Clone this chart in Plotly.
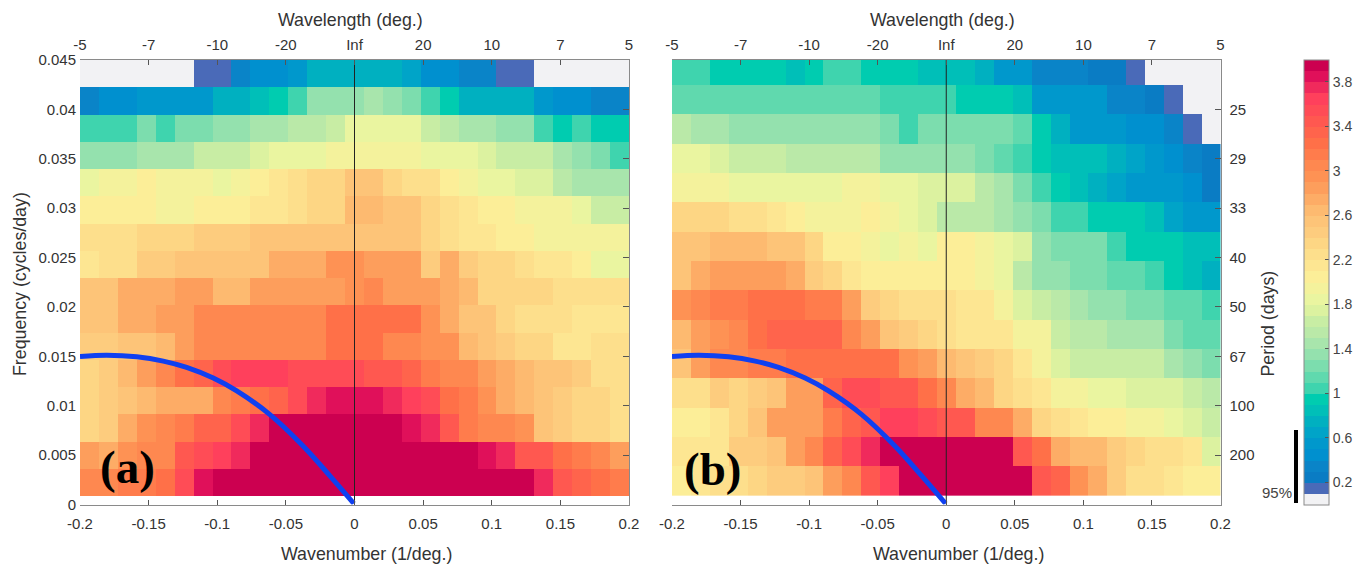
import numpy as np
import plotly.graph_objects as go

W, H = 1369, 567

# Power in each cell, listed from the top row down (lower edge of a 0.1-wide colour band)
panel_a = [
 [0,0,0,0,0,0,.1,.1,.3,.4,.4,.5,.7,.7,.7,.7,.7,.6,.4,.4,.3,.3,.1,.1,0,0,0,0,0],
 [.3,.4,.4,.5,.5,.5,.5,.7,.7,.8,.9,1.0,1.3,1.3,1.3,1.4,1.3,1.2,1.0,.9,.7,.7,.7,.7,.5,.4,.4,.3,.3],
 [1.0,1.0,1.0,1.2,1.0,1.2,1.2,1.3,1.3,1.4,1.4,1.5,1.5,1.6,1.8,1.8,1.8,1.8,1.6,1.5,1.4,1.4,1.3,1.3,1.0,.9,1.0,.9,.9],
 [1.3,1.3,1.3,1.4,1.4,1.4,1.6,1.6,1.6,1.7,1.8,1.8,1.8,1.9,1.9,1.9,1.9,1.9,1.8,1.8,1.8,1.7,1.6,1.6,1.6,1.4,1.3,1.2,1.0],
 [1.8,1.9,1.9,2.0,1.9,1.9,1.9,1.8,1.9,2.0,2.1,2.2,2.3,2.3,2.5,2.5,2.3,2.2,2.2,2.0,1.9,1.8,1.8,1.7,1.7,1.5,1.4,1.4,1.4],
 [2.0,2.0,2.0,2.0,1.9,1.9,2.0,2.0,2.0,2.1,2.1,2.2,2.3,2.3,2.6,2.6,2.5,2.5,2.3,2.2,2.1,2.0,2.0,1.9,1.9,1.9,1.8,1.6,1.6],
 [2.2,2.2,2.2,2.3,2.3,2.3,2.4,2.4,2.4,2.5,2.5,2.5,2.5,2.5,2.5,2.5,2.5,2.5,2.3,2.2,2.1,2.1,2.0,2.0,1.9,1.9,1.9,1.9,1.9],
 [2.1,2.2,2.2,2.4,2.4,2.5,2.5,2.5,2.5,2.5,2.7,2.7,2.7,2.9,2.9,2.8,2.8,2.8,2.4,2.7,2.4,2.3,2.3,2.2,2.1,2.1,2.0,1.8,1.8],
 [2.5,2.5,2.7,2.7,2.7,2.8,2.8,2.6,2.6,2.8,2.8,2.8,2.8,2.8,2.9,3.0,2.8,2.8,2.8,2.7,2.6,2.3,2.3,2.3,2.3,2.2,2.2,2.2,2.2],
 [2.5,2.5,2.7,2.7,2.8,2.8,3.0,3.0,3.0,3.0,3.0,3.0,3.0,3.2,3.2,3.2,3.2,3.2,2.9,2.7,2.5,2.5,2.3,2.2,2.2,2.2,2.1,2.1,2.1],
 [2.4,2.4,2.5,2.5,2.6,2.8,3.0,3.0,3.0,3.0,3.0,3.0,3.0,3.2,3.2,3.2,3.0,3.0,2.9,2.9,2.6,2.5,2.4,2.3,2.3,2.1,2.1,2.2,2.2],
 [2.3,2.4,2.6,2.8,3.0,3.2,3.3,3.5,3.6,3.6,3.6,3.5,3.5,3.5,3.5,3.4,3.4,3.3,3.1,3.0,3.0,2.8,2.7,2.6,2.5,2.5,2.4,2.2,2.2],
 [2.3,2.4,2.5,2.6,2.7,2.7,2.7,3.0,3.1,3.2,3.3,3.5,3.7,3.8,3.8,3.8,3.7,3.6,3.5,3.2,3.1,2.9,2.7,2.6,2.5,2.4,2.3,2.3,2.2],
 [2.3,2.4,2.7,2.9,3.0,3.1,3.3,3.3,3.5,3.7,3.9,3.9,3.9,3.9,3.9,3.9,3.9,3.8,3.7,3.4,3.1,3.0,3.0,2.9,2.5,2.4,2.3,2.3,2.2],
 [2.8,2.7,2.9,3.0,3.0,3.4,3.5,3.6,3.7,3.9,3.9,3.9,3.9,3.9,3.9,3.9,3.9,3.9,3.9,3.9,3.9,3.8,3.7,3.4,3.4,3.2,3.1,3.0,2.8],
 [3.0,3.0,3.1,3.1,3.2,3.5,3.8,3.9,3.9,3.9,3.9,3.9,3.9,3.9,3.9,3.9,3.9,3.9,3.9,3.9,3.9,3.9,3.9,3.9,3.7,3.4,3.3,3.2,3.1],
]
panel_b = [
 [1.0,1.0,.9,.9,.9,.9,.8,.9,1.0,1.0,.9,.9,.9,.8,.8,.8,.7,.5,.5,.3,.3,.3,.2,.2,.1,0,0,0,0],
 [1.1,1.1,1.1,1.1,1.1,1.1,1.1,1.1,1.1,1.1,1.1,1.0,1.0,1.0,1.0,.9,.9,.9,.8,.5,.5,.5,.5,.3,.3,.2,.1,0,0],
 [1.5,1.4,1.4,1.3,1.3,1.3,1.3,1.3,1.3,1.3,1.3,1.2,1.0,1.2,1.2,1.2,1.2,1.2,1.1,.9,.7,.5,.5,.5,.4,.4,.3,.1,0],
 [1.8,1.8,1.7,1.6,1.6,1.6,1.5,1.5,1.5,1.5,1.5,1.3,1.3,1.3,1.3,1.3,1.2,1.1,1.0,.9,.8,.8,.8,.7,.6,.5,.4,.3,.2],
 [1.9,1.9,1.9,1.8,1.8,1.8,1.8,1.8,1.8,1.9,1.9,1.8,1.8,1.7,1.7,1.7,1.5,1.4,1.2,1.0,.9,.8,.7,.6,.5,.5,.5,.4,.2],
 [2.3,2.3,2.3,2.2,2.2,2.1,2.0,1.9,1.9,1.9,2.0,1.9,1.8,1.7,1.5,1.5,1.5,1.4,1.3,1.2,1.0,1.0,.9,.9,.9,.8,.6,.5,.5],
 [2.5,2.5,2.6,2.6,2.6,2.5,2.5,2.3,2.0,2.0,1.9,1.8,1.9,1.8,2.0,2.0,1.9,1.8,1.7,1.3,1.2,1.2,1.2,1.0,.9,.9,.9,.8,.8],
 [2.5,2.7,2.8,2.8,2.8,2.8,2.7,2.4,2.3,2.1,2.0,2.0,2.0,2.0,2.0,2.0,1.9,1.8,1.5,1.3,1.3,1.2,1.2,1.1,1.1,1.0,.9,.8,.7],
 [2.9,3.0,3.1,3.1,3.2,3.2,3.2,3.1,3.1,2.8,2.4,2.3,2.2,2.2,2.2,2.1,2.1,1.9,1.7,1.6,1.5,1.4,1.3,1.3,1.2,1.2,1.1,1.1,1.0],
 [2.6,2.8,2.9,3.0,3.2,3.3,3.3,3.3,3.3,3.0,2.8,2.5,2.4,2.3,2.2,2.1,2.1,2.1,1.9,1.9,1.6,1.5,1.5,1.4,1.4,1.4,1.2,1.1,1.1],
 [2.5,2.8,3.0,3.0,3.1,3.1,3.2,3.2,3.2,3.2,3.2,3.2,2.9,2.8,2.6,2.5,2.4,2.3,2.1,1.9,1.7,1.6,1.6,1.6,1.6,1.6,1.4,1.3,1.2],
 [2.2,2.2,2.4,2.3,2.4,2.5,2.8,2.8,3.3,3.5,3.5,3.4,3.4,3.2,3.0,2.7,2.6,2.3,2.2,2.1,1.9,1.9,1.8,1.8,1.7,1.7,1.7,1.6,1.5],
 [2.0,2.0,2.1,2.3,2.5,2.8,2.8,2.8,3.1,3.3,3.4,3.6,3.6,3.5,3.4,3.4,3.0,3.0,2.7,2.3,2.2,2.1,2.0,2.0,1.9,1.9,1.8,1.7,1.6],
 [2.1,2.1,2.1,2.4,2.4,2.5,2.8,3.0,3.3,3.5,3.7,3.9,3.9,3.9,3.9,3.9,3.9,3.9,3.4,3.2,2.7,2.6,2.6,2.4,2.3,2.2,2.2,2.1,1.7],
 [2.0,2.1,2.2,2.2,2.3,2.4,2.4,2.5,2.8,3.0,3.4,3.6,3.9,3.9,3.9,3.9,3.9,3.9,3.9,3.4,3.3,2.9,2.7,2.4,2.2,2.2,2.1,2.0,2.0],
]

# Cell edges, bottom to top, in cycles/day
freq_edges_a = [0.00084,0.0036,0.00636,0.00912,0.01188,0.01464,0.0174,0.02016,0.02292,
                0.02568,0.02844,0.0312,0.03396,0.03672,0.03948,0.04224,0.045]
freq_edges_b = [0.00089,0.00386,0.00683,0.0098,0.01277,0.01574,0.01871,0.02168,
                0.02465,0.02762,0.03059,0.03356,0.03653,0.0395,0.04247,0.04544]
wavenumber_edges = np.linspace(-0.2, 0.2, 30)

# Blue dispersion curve
curve_k = [-0.2,-0.1806,-0.1587,-0.1393,-0.1223,-0.1029,-0.0858,-0.0616,-0.0373,-0.0179,-0.0005]
curve_f = [0.01497,0.0151,0.01495,0.01452,0.01388,0.0128,0.0115,0.0091,0.0059,0.0029,0.0001]

x_ticks = [-0.2,-0.15,-0.1,-0.05,0,0.05,0.1,0.15,0.2]
x_labels = ["-0.2","-0.15","-0.1","-0.05","0","0.05","0.1","0.15","0.2"]
wavelength_labels = ["-5","-7","-10","-20","Inf","20","10","7","5"]
y_ticks = [0,0.005,0.01,0.015,0.02,0.025,0.03,0.035,0.04,0.045]
y_labels = ["0","0.005","0.01","0.015","0.02","0.025","0.03","0.035","0.04","0.045"]
period_ticks = [0.005,0.01,0.015,0.02,0.025,0.03,0.035,0.04]
period_labels = ["200","100","67","50","40","33","29","25"]
cbar_ticks = [0.2,0.6,1,1.4,1.8,2.2,2.6,3,3.4,3.8]
cbar_labels = ["0.2","0.6","1","1.4","1.8","2.2","2.6","3","3.4","3.8"]

band_colors = [
 "#f2f2f4","#4a6ab8","#0a7cc4","#0a84c8","#0090cf","#0098cc","#00a4c8","#00b0c0","#00bfb8","#00ccb0",
 "#3fd4ae","#60d9ae","#7cddae","#94e1ae","#a8e5ac","#bae9a8","#c8eda4","#dcf2a0","#eaf5a0","#f4f29c",
 "#fcee98","#fde692","#fddf8c","#fdd684","#fdcc7e","#fdc478","#fdba70","#fdac66","#fd9e5c","#fe9254",
 "#fe8850","#ff7c4c","#ff7048","#ff644c","#ff5850","#ff4c56","#ff405c","#f02a5c","#e0105a","#cc0050",
]
scale = []
for i, c in enumerate(band_colors):
    scale += [[i / 40, c], [(i + 1) / 40, c]]

FONT = "Liberation Sans"
TXT = "#333333"
GRID = "#8a8a8a"
TOP, BOT = 60, 504.5
A_L, A_R, B_L, B_R = 80, 629, 672, 1220.5
py = lambda p: 1 - p / H
px = lambda p: p / W
ydom = [py(BOT), py(TOP)]

fig = go.Figure()
fig.add_trace(go.Heatmap(x=wavenumber_edges, y=freq_edges_a, z=np.array(panel_a)[::-1] + 0.05,
                         coloraxis="coloraxis", xaxis="x", yaxis="y"))
fig.add_trace(go.Heatmap(x=wavenumber_edges, y=freq_edges_b, z=np.array(panel_b)[::-1] + 0.05,
                         coloraxis="coloraxis", xaxis="x2", yaxis="y2"))
for xa, ya in (("x", "y"), ("x2", "y2")):
    fig.add_trace(go.Scatter(x=[0, 0], y=[0, 0.045], mode="lines", xaxis=xa, yaxis=ya,
                             line=dict(color="#222222", width=1), showlegend=False, hoverinfo="skip"))
    fig.add_trace(go.Scatter(x=curve_k, y=curve_f, mode="lines", xaxis=xa, yaxis=ya, cliponaxis=False,
                             line=dict(color="#1040f0", width=5, shape="spline", smoothing=1.0), showlegend=False))
# carriers for the top and right axes
for xa, ya in (("x3", "y3"), ("x4", "y4")):
    fig.add_trace(go.Scatter(x=[0], y=[0], mode="markers", marker=dict(opacity=0), xaxis=xa, yaxis=ya,
                             showlegend=False, hoverinfo="skip"))

tick_font = dict(family=FONT, size=15, color=TXT)
common = dict(range=[-0.2, 0.2], tickvals=x_ticks, ticks="inside", ticklen=5, tickcolor="#555555", tickwidth=1,
              showgrid=False, zeroline=False, showline=True, linecolor=GRID, linewidth=1, tickfont=tick_font)
fig.update_layout(
    width=W, height=H, margin=dict(l=0, r=0, t=0, b=0, autoexpand=False), autosize=False,
    paper_bgcolor="white", plot_bgcolor="white", showlegend=False,
    xaxis=dict(domain=[px(A_L), px(A_R)], anchor="y", ticktext=x_labels, ticklabelstandoff=5, **common),
    xaxis2=dict(domain=[px(B_L), px(B_R)], anchor="y2", ticktext=x_labels, ticklabelstandoff=5, **common),
    xaxis3=dict(domain=[px(A_L), px(A_R)], anchor="y3", overlaying="x", side="top", ticktext=wavelength_labels,
                ticklabelstandoff=3, **common),
    xaxis4=dict(domain=[px(B_L), px(B_R)], anchor="y4", overlaying="x2", side="top", ticktext=wavelength_labels,
                ticklabelstandoff=3, **common),
    yaxis=dict(domain=ydom, anchor="x", range=[0, 0.045], tickvals=y_ticks, ticktext=y_labels, ticks="",
               showgrid=False, zeroline=False, showline=False, tickfont=tick_font, ticklabelstandoff=3),
    yaxis2=dict(domain=ydom, anchor="x2", range=[0, 0.045], showticklabels=False, ticks="",
                showgrid=False, zeroline=False, showline=False),
    yaxis3=dict(domain=ydom, anchor="x3", overlaying="y", side="right", range=[0, 0.045], tickvals=period_ticks,
                showticklabels=False, ticks="inside", ticklen=6, tickcolor="#555555",
                showgrid=False, zeroline=False, showline=True, linecolor=GRID, linewidth=1),
    yaxis4=dict(domain=ydom, anchor="x4", overlaying="y2", side="right", range=[0, 0.045], tickvals=period_ticks,
                ticktext=period_labels, ticks="inside", ticklen=6, tickcolor="#555555", tickfont=tick_font,
                showgrid=False, zeroline=False, showline=True, linecolor=GRID, linewidth=1, ticklabelstandoff=5),
    coloraxis=dict(
        colorscale=scale, cmin=0, cmax=4,
        colorbar=dict(x=px(1304), xanchor="left", y=py(BOT), yanchor="bottom", yref="paper",
                      len=(BOT - TOP) / H, lenmode="fraction", thickness=25, thicknessmode="pixels",
                      xpad=0, ypad=0, outlinecolor=GRID, outlinewidth=1, borderwidth=0,
                      tickvals=cbar_ticks, ticktext=cbar_labels, ticks="inside", ticklen=4,
                      tickcolor="#555555", tickfont=dict(family=FONT, size=14, color="#444444")),
    ),
)

def label(text, x, y, size=17.8, angle=0, **kw):
    fig.add_annotation(text=text, xref="paper", yref="paper", x=px(x), y=py(y), showarrow=False,
                       textangle=angle, xanchor="center", yanchor="middle",
                       font=dict(family=kw.get("family", FONT), size=size, color=kw.get("color", TXT)))

label("Wavelength (deg.)", 350.5, 20)
label("Wavelength (deg.)", 942, 20)
label("Wavenumber (1/deg.)", 366, 554)
label("Wavenumber (1/deg.)", 958, 554)
label("Frequency (cycles/day)", 20, 284, angle=-90)
label("Period (days)", 1267, 323.5, angle=-90)
label("95%", 1277, 492.5, size=15, color="#444444")
label("<b>(a)</b>", 127, 467, size=47, family="Liberation Serif", color="#000000")
label("<b>(b)</b>", 712, 469, size=47, family="Liberation Serif", color="#000000")

fig.add_shape(type="rect", xref="paper", yref="paper", x0=px(1294), x1=px(1298), y0=py(503), y1=py(430),
              fillcolor="#000000", line=dict(width=0))

fig.write_html("out.html", config={"displayModeBar": False},
               post_script="document.body.style.margin='0';document.body.style.overflow='hidden';")
